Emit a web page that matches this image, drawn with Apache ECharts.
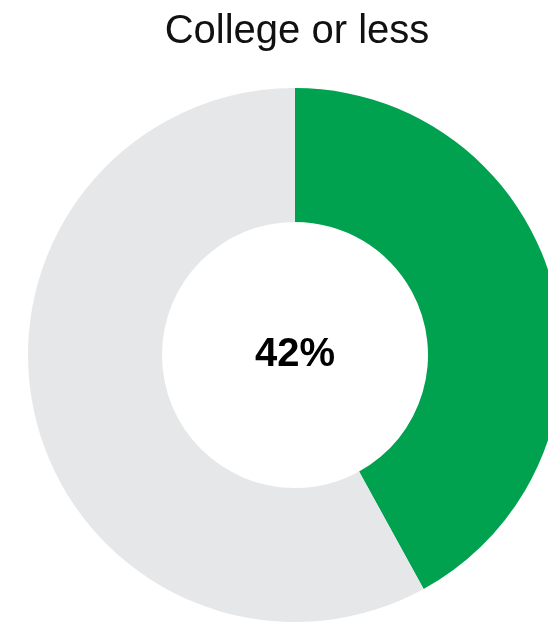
<!DOCTYPE html>
<html>
<head>
<meta charset="utf-8">
<script src="https://cdn.jsdelivr.net/npm/echarts@6/dist/echarts.min.js"></script>
<style>
  html, body { margin: 0; padding: 0; background: #ffffff; }
  #chart { width: 548px; height: 623px; }
</style>
</head>
<body>
<div id="chart"></div>
<script>
// Share of respondents with a college education or less
const chartTitle = 'College or less';
const categories = ['College or less', 'Other'];
const shares = [42, 58];
const sliceColors = ['#01A24F', '#E6E7E9'];

const chart = echarts.init(document.getElementById('chart'), null, { renderer: 'canvas' });

chart.setOption({
  backgroundColor: '#ffffff',
  animation: false,
  title: {
    text: chartTitle,
    left: 292,
    textAlign: 'center',
    top: 7,
    textStyle: {
      fontFamily: 'Liberation Sans, Arial, sans-serif',
      fontSize: 40,
      fontWeight: 'normal',
      color: '#111111'
    }
  },
  series: [{
    type: 'pie',
    center: [295, 355],
    radius: [133, 267],
    startAngle: 90,
    clockwise: true,
    silent: true,
    label: {
      show: true,
      position: 'center',
      formatter: () => shares[0] + '%',
      fontFamily: 'Liberation Sans, Arial, sans-serif',
      fontSize: 40,
      fontWeight: 'bold',
      color: '#000000'
    },
    labelLine: { show: false },
    itemStyle: { borderWidth: 0 },
    data: categories.map((name, i) => ({
      name: name,
      value: shares[i],
      itemStyle: { color: sliceColors[i] },
      label: { show: i === 0 }
    }))
  }]
});
</script>
</body>
</html>
